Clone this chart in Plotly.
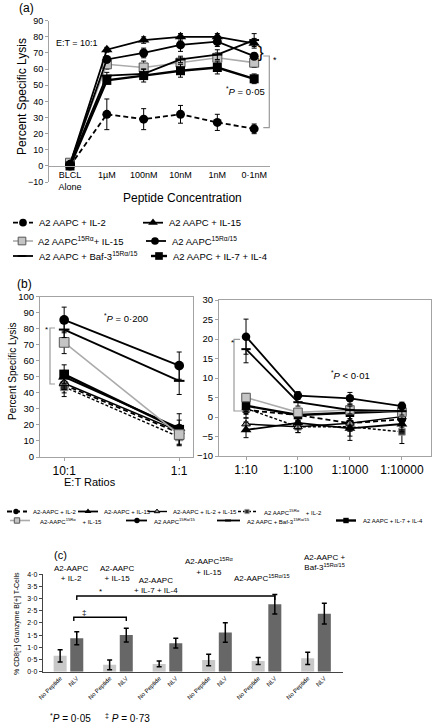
import plotly.graph_objects as go

W, H = 433, 727
def px(x): return x / W
def py(y): return 1 - y / H

FONT = "Liberation Sans, Arial, sans-serif"
AX = "#a3a3a3"

# ---------------- data: panel (a) ----------------
a_concentrations = ["BLCL<br>Alone", "1µM", "100nM", "10nM", "1nM", "0·1nM"]
a_il2 = [0, 32, 29, 32, 27, 23]
a_il2_err = [0, 9.5, 6.5, 5.5, 5, 3]
a_il15 = [1, 72, 78, 80, 80, 76]
a_il15_err = [0, 1.5, 2, 2, 2, 3]
a_15ra_il15 = [2, 63, 61, 64, 67, 64]
a_15ra_il15_err = [0, 3, 4, 3, 3, 3]
a_15ra15 = [1, 66, 70, 75, 77, 68]
a_15ra15_err = [0, 2, 3, 4, 3, 2]
a_baf3 = [1, 56, 57, 66, 69, 78]
a_baf3_err = [0, 2, 3, 2, 3, 4]
a_il7il4 = [0, 53, 56, 59, 61, 54]
a_il7il4_err = [0, 2, 4, 4, 4, 3]

# ---------------- data: panel (b) ----------------
b_ratios_left = ["10:1", "1:1"]
b_ratios_right = ["1:10", "1:100", "1:1000", "1:10000"]
b_il2 = [45, 15, 1.8, 0.5, -1.6, -0.6]
b_il2_err = [5, 4, 2, 1.5, 2, 2]
b_il15 = [50, 18, -3.3, -1.5, -2.9, -1.8]
b_il15_err = [4, 5, 2, 1.5, 2, 2]
b_il2il15 = [46, 16, -1.8, -2.5, -1.6, 0.1]
b_il2il15_err = [4, 4, 1.5, 1.5, 2, 2]
b_15ra_il2 = [43.7, 12.5, 2.2, -2.5, -2.5, -3.8]
b_15ra_il2_err = [6, 5, 1.5, 1.5, 3.5, 3]
b_15ra_il15 = [71.5, 14, 5.0, 1.2, 1.8, 1.2]
b_15ra_il15_err = [7, 6, 1, 1, 1.5, 1]
b_15ra15 = [85.5, 57, 20.6, 5.5, 4.8, 2.8]
b_15ra15_err = [8, 8.5, 4.5, 1, 1.5, 1]
b_baf3 = [79.5, 47.5, 17.4, 3.8, 1.8, 1.5]
b_baf3_err = [5, 8.5, 3.5, 1, 1, 1]
b_il7il4 = [51.5, 17, 2.9, 0.5, 1.1, 1.5]
b_il7il4_err = [6, 10, 1.5, 1, 1.5, 1]

# ---------------- data: panel (c) ----------------
c_groups = ["A2-AAPC + IL-2", "A2-AAPC + IL-15", "A2-AAPC + IL-7 + IL-4",
            "A2-AAPC15Rα + IL-15", "A2-AAPC15Rα/15", "A2-AAPC + Baf-315Rα/15"]
c_bar_labels = ["No Peptide", "NLV"]
c_nopep = [0.65, 0.28, 0.32, 0.48, 0.44, 0.55]
c_nopep_err = [0.25, 0.2, 0.12, 0.24, 0.14, 0.25]
c_nlv = [1.37, 1.5, 1.17, 1.61, 2.76, 2.38]
c_nlv_err = [0.27, 0.28, 0.2, 0.4, 0.4, 0.43]
c_ytick_vals = [0, 0.5, 1.0, 1.5, 2.0, 2.5, 3.0, 3.5, 4.0]
c_ytick_text = ["0·0", "0·5", "1·0", "1·5", "2·0", "2·5", "3·0", "3·5", "4·0"]

# ---------------- styles ----------------
styles = {
    "il2": dict(line=dict(color="black", width=1.8, dash="5px,3px"),
                marker=dict(symbol="circle", size=9, color="black")),
    "il15": dict(line=dict(color="black", width=1.8),
                 marker=dict(symbol="triangle-up", size=10, color="black")),
    "15ra_il15": dict(line=dict(color="#ababab", width=1.6),
                      marker=dict(symbol="square", size=9, color="#c4c4c4",
                                  line=dict(color="#555555", width=1))),
    "15ra15": dict(line=dict(color="black", width=1.8),
                   marker=dict(symbol="circle", size=9, color="black")),
    "baf3": dict(line=dict(color="black", width=1.8),
                 marker=dict(symbol="line-ew", size=7, color="black",
                             line=dict(color="black", width=2))),
    "il7il4": dict(line=dict(color="black", width=2.4),
                   marker=dict(symbol="square", size=9, color="black")),
    "il2il15": dict(line=dict(color="black", width=1.4),
                    marker=dict(symbol="triangle-up", size=8, color="#9a9a9a",
                                line=dict(color="black", width=1))),
    "15ra_il2": dict(line=dict(color="black", width=1.4, dash="3px,2px"),
                     marker=dict(symbol="square", size=7, color="#2a2a2a",
                                 line=dict(color="#999999", width=1))),
}

def sized(marker, scale):
    m = dict(marker)
    m["size"] = marker["size"] * scale
    return m

def err(arr, w=2.5, t=1):
    return dict(type="data", array=arr, color="black", thickness=t, width=w, visible=True)

fig = go.Figure()

# ---------------- panel (a) traces ----------------
a_series = [
    ("il2", a_il2, a_il2_err), ("15ra_il15", a_15ra_il15, a_15ra_il15_err),
    ("il7il4", a_il7il4, a_il7il4_err), ("baf3", a_baf3, a_baf3_err),
    ("15ra15", a_15ra15, a_15ra15_err), ("il15", a_il15, a_il15_err),
]
for key, vals, errs in a_series:
    st = styles[key]
    fig.add_trace(go.Scatter(x=list(range(len(a_concentrations))), y=vals,
                             error_y=err(errs), mode="lines+markers",
                             line=st["line"], marker=st["marker"],
                             xaxis="x", yaxis="y", showlegend=False, cliponaxis=False))

# ---------------- panel (b) traces ----------------
b_series = [
    ("il2", b_il2, b_il2_err), ("15ra_il2", b_15ra_il2, b_15ra_il2_err),
    ("il2il15", b_il2il15, b_il2il15_err), ("il15", b_il15, b_il15_err),
    ("il7il4", b_il7il4, b_il7il4_err), ("15ra_il15", b_15ra_il15, b_15ra_il15_err),
    ("baf3", b_baf3, b_baf3_err), ("15ra15", b_15ra15, b_15ra15_err),
]
nL = len(b_ratios_left)
for key, vals, errs in b_series:
    st = styles[key]
    fig.add_trace(go.Scatter(x=list(range(nL)), y=vals[:nL], error_y=err(errs[:nL]),
                             mode="lines+markers", line=st["line"], marker=sized(st["marker"], 1.08),
                             xaxis="x2", yaxis="y2", showlegend=False, cliponaxis=False))
    fig.add_trace(go.Scatter(x=list(range(len(b_ratios_right))), y=vals[nL:], error_y=err(errs[nL:]),
                             mode="lines+markers", line=st["line"], marker=sized(st["marker"], 0.95),
                             xaxis="x3", yaxis="y3", showlegend=False, cliponaxis=False))

# ---------------- panel (c) bars ----------------
OFF, BW = 0.168, 0.263
gidx = list(range(len(c_groups)))
nopep_x = [g - OFF for g in gidx]
nlv_x = [g + OFF for g in gidx]
fig.add_trace(go.Bar(x=nopep_x, y=c_nopep, width=BW, marker=dict(color="#c8c8c8", line=dict(width=0)),
                     error_y=err(c_nopep_err, w=2.5, t=1.5), xaxis="x4", yaxis="y4", showlegend=False))
fig.add_trace(go.Bar(x=nlv_x, y=c_nlv, width=BW, marker=dict(color="#676767", line=dict(width=0)),
                     error_y=err(c_nlv_err, w=2.5, t=1.5), xaxis="x4", yaxis="y4", showlegend=False))
c_tickvals, c_ticktext = [], []
for g in gidx:
    c_tickvals += [g - OFF, g + OFF]
    c_ticktext += c_bar_labels

# ---------------- hand-drawn legends (overlay, pixel axes) ----------------
def legend_sample(key, x0, x1, xm, y, scale):
    st = styles[key]
    fig.add_trace(go.Scatter(x=[x0, x1], y=[y, y], mode="lines", line=dict(st["line"]),
                             xaxis="x5", yaxis="y5", showlegend=False, hoverinfo="skip"))
    fig.add_trace(go.Scatter(x=[xm], y=[y], mode="markers", marker=sized(st["marker"], scale),
                             xaxis="x5", yaxis="y5", showlegend=False, hoverinfo="skip"))

annotations = []
def note(x, y, text, size, xanchor="left", yanchor="middle", angle=0, color="black"):
    annotations.append(dict(x=px(x), y=py(y), xref="paper", yref="paper", text=text,
                            showarrow=False, xanchor=xanchor, yanchor=yanchor, textangle=angle,
                            font=dict(size=size, color=color, family=FONT)))

legend_a = [
    ("il2", 13, 33, 23, 222.7, 36.7, "A2 AAPC + IL-2"),
    ("il15", 143, 163, 153, 222.7, 167, "A2 AAPC + IL-15"),
    ("15ra_il15", 13, 33, 22, 241, 35.7, "A2 AAPC<sup>15Rα</sup>+ IL-15"),
    ("15ra15", 146, 166, 155, 241, 170, "A2 AAPC<sup>15Rα/15</sup>"),
    ("baf3", 13, 33, 22, 256, 36.7, "A2 AAPC + Baf-3<sup>15Rα/15</sup>"),
    ("il7il4", 151, 167, 159, 256, 170.7, "A2 AAPC + IL-7 + IL-4"),
]
for key, x0, x1, xm, y, tx, txt in legend_a:
    legend_sample(key, x0, x1, xm, y, 0.85)
    note(tx, y, txt, 9.5)

NB = "\u00a0"
legend_b = [
    ("il2", 7, 27, 16, 511.5, 31, "A2-AAPC + IL-2"),
    ("il15", 78, 98, 88, 511.5, 101.7, "A2-AAPC + IL-15"),
    ("il2il15", 148, 167, 157, 511.5, 170.7, "A2-AAPC + IL-2 + IL-15"),
    ("15ra_il2", 238, 257, 247, 511.5, 261.7, "A2 AAPC<sup>15Rα</sup>" + NB * 4 + "+ IL-2"),
    ("15ra_il15", 10, 30, 17, 520.5, 38, "A2-AAPC<sup>15Rα</sup>" + NB * 4 + "+ IL-15"),
    ("15ra15", 126, 147, 137, 520.5, 152, "A2 AAPC<sup>15Rα/15</sup>"),
    ("baf3", 217, 240, 228, 520.5, 245, "A2 AAPC + Baf-3<sup>15Rα/15</sup>"),
    ("il7il4", 336, 356, 346, 520.5, 361, "A2 AAPC + IL-7 + IL-4"),
]
for key, x0, x1, xm, y, tx, txt in legend_b:
    legend_sample(key, x0, x1, xm, y, 0.6)
    note(tx, y, txt, 6)

# panel (a)
note(17, 8, "(a)", 12)
note(54, 43.3, "E:T = 10:1", 9)
note(260.5, 52.5, "}", 17, xanchor="center")
note(271, 59.5, "*", 9)
note(224, 90.7, "<sup>*</sup><i>P</i> = 0·05", 9.5)
note(22, 97, "Percent Specific Lysis", 12, xanchor="center", angle=-90)
note(182.5, 198, "Peptide Concentration", 12, xanchor="center")
# panel (b)
note(15, 283.5, "(b)", 12)
note(12, 372, "Percent Specific Lysis", 10, xanchor="center", angle=-90)
note(43, 329, "*", 8)
note(101.7, 318.3, "<sup>*</sup><i>P</i> = 0·200", 9.5)
note(229, 343, "*", 8)
note(329, 375, "<sup>*</sup><i>P</i> &lt; 0·01", 9.5)
note(90, 481.7, "E:T Ratios", 11, xanchor="center")
# panel (c)
note(52, 555, "(c)", 11)
note(52, 573, "A2-AAPC<br>+ IL-2", 8)
note(98, 573, "A2-AAPC<br>+ IL-15", 8)
note(155.5, 585.5, "A2-AAPC<br>+ IL-7 + IL-4", 8, xanchor="center")
note(183, 566.5, "A2-AAPC<sup>15Rα</sup><br>+ IL-15", 8)
note(232, 578, "A2-AAPC<sup>15Rα/15</sup>", 8)
note(302, 562, "A2-AAPC +<br>Baf-3<sup>15Rα/15</sup>", 8)
note(17, 624, "% CD8[+] Granzyme B[+] T-Cells", 7, xanchor="center", angle=-90)
note(97, 591.5, "*", 8)
note(80, 612, "‡", 8)
note(48, 718, "<sup>*</sup><i>P</i> = 0·05", 10)
note(103, 718, "<sup>‡</sup> <i>P</i> = 0·73", 10)

def ppath(pts):
    return "M " + " L ".join(f"{px(x):.5f},{py(y):.5f}" for x, y in pts)

shapes = [
    dict(type="path", xref="paper", yref="paper", line=dict(color="#9a9a9a", width=1.2),
         path=ppath([(263.3, 56), (269.3, 56), (269.3, 127.7), (263.3, 127.7)])),
    dict(type="path", xref="paper", yref="paper", line=dict(color="#9a9a9a", width=1.2),
         path=ppath([(55, 328), (50, 328), (50, 384), (55, 384)])),
    dict(type="path", xref="paper", yref="paper", line=dict(color="#9a9a9a", width=1.2),
         path=ppath([(240, 339.3), (234, 339.3), (234, 411), (243, 411)])),
    dict(type="path", xref="x4", yref="y4", line=dict(color="black", width=1.4),
         path=f"M {nlv_x[0]},2.94 L {nlv_x[0]},3.10 L {nlv_x[4]},3.10 L {nlv_x[4]},2.94"),
    dict(type="path", xref="x4", yref="y4", line=dict(color="black", width=1.4),
         path=f"M {nlv_x[0]-0.06},2.08 L {nlv_x[0]-0.06},2.23 L {nlv_x[1]},2.23 L {nlv_x[1]},2.08"),
]

tick_font = dict(family=FONT, color="black")
common = dict(automargin=False, showgrid=False, zeroline=False)
fig.update_layout(
    template="none",
    width=W, height=H, autosize=False,
    margin=dict(l=0, r=0, t=0, b=0, pad=0),
    paper_bgcolor="white", plot_bgcolor="rgba(0,0,0,0)",
    font=dict(family=FONT, color="black"),
    barmode="overlay",
    showlegend=False,
    hovermode=False,
    annotations=annotations, shapes=shapes,
    xaxis=dict(domain=[px(49), px(270)], range=[-0.57, 5.43], anchor="free", position=py(166),
               tickvals=list(range(len(a_concentrations))), ticktext=a_concentrations,
               showline=True, linecolor=AX, linewidth=1, ticks="",
               tickfont=dict(size=9, **tick_font), **common),
    yaxis=dict(domain=[py(182.1), py(20.7)], range=[-10, 90], dtick=10, anchor="x",
               showline=True, linecolor=AX, ticks="outside", ticklen=3, tickcolor=AX,
               tickfont=dict(size=9, **tick_font), **common),
    xaxis2=dict(domain=[px(40), px(193)], range=[-0.21, 1.12], anchor="y2",
                tickvals=list(range(len(b_ratios_left))), ticktext=b_ratios_left,
                showline=True, mirror=True, linecolor=AX, ticks="outside", ticklen=3, tickcolor=AX,
                tickfont=dict(size=12, **tick_font), **common),
    yaxis2=dict(domain=[py(457), py(296.7)], range=[0, 100], dtick=10, anchor="x2",
                showline=True, mirror=True, linecolor=AX, ticks="outside", ticklen=3, tickcolor=AX,
                tickfont=dict(size=9.5, **tick_font), **common),
    xaxis3=dict(domain=[px(219), px(431)], range=[-0.52, 3.56], anchor="y3",
                tickvals=list(range(len(b_ratios_right))), ticktext=b_ratios_right,
                showline=True, mirror=True, linecolor=AX, ticks="outside", ticklen=3, tickcolor=AX,
                tickfont=dict(size=12, **tick_font), **common),
    yaxis3=dict(domain=[py(456), py(300)], range=[-10, 30], dtick=5, anchor="x3",
                showline=True, mirror=True, linecolor=AX, ticks="outside", ticklen=3, tickcolor=AX,
                tickfont=dict(size=9.5, **tick_font), **common),
    xaxis4=dict(domain=[px(42.7), px(343)], range=[-0.52, 5.545], anchor="y4",
                tickvals=c_tickvals, ticktext=c_ticktext, tickangle=-45,
                showline=True, linecolor="#444444", linewidth=1, ticks="",
                tickfont=dict(size=6, **tick_font), **common),
    yaxis4=dict(domain=[py(671.7), py(574.1)], range=[0, 4.0], anchor="x4",
                tickvals=c_ytick_vals, ticktext=c_ytick_text,
                showline=True, linecolor="#444444", linewidth=1, ticks="outside", ticklen=3,
                tickcolor="#444444", tickfont=dict(size=7, **tick_font), **common),
    xaxis5=dict(domain=[0, 1], range=[0, W], anchor="y5", visible=False, fixedrange=True, **common),
    yaxis5=dict(domain=[0, 1], range=[H, 0], anchor="x5", visible=False, fixedrange=True, **common),
)

fig.write_html("out.html",
               config={"displayModeBar": False, "staticPlot": True},
               post_script="document.body.style.margin='0';document.body.style.padding='0';"
                           "document.documentElement.style.overflow='hidden';")
